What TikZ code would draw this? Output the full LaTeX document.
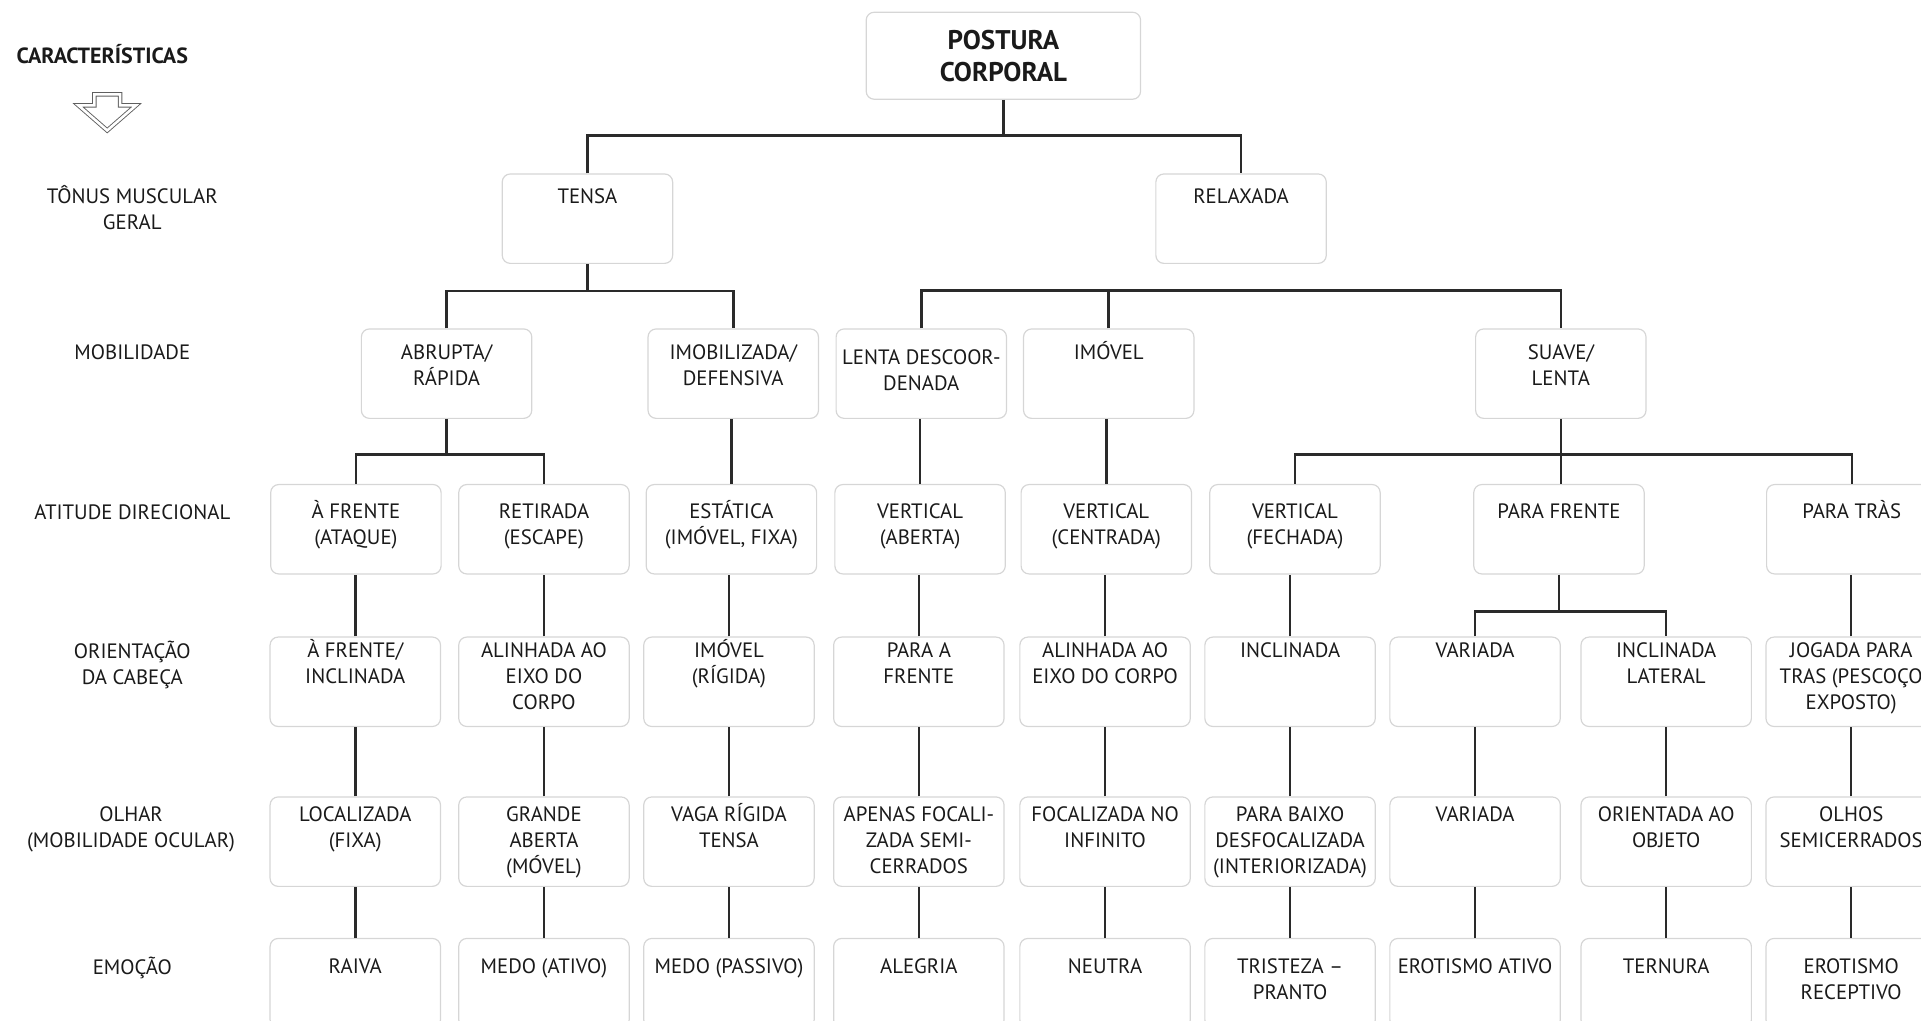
\documentclass[tikz,border=0pt]{standalone}
\usepackage{fontspec}
\setmainfont{PT Sans}
\usetikzlibrary{positioning}
\definecolor{linegray}{HTML}{2A2A2A}
\definecolor{boxgray}{HTML}{D6D6D6}
\definecolor{txtgray}{HTML}{1A1A1A}

\begin{document}
\begin{tikzpicture}[x=0.6126pt, y=-0.6126pt,
  cell/.style={draw=boxgray, line width=0.6pt, rounded corners=4pt,
    minimum width=85.2pt, minimum height=44.7pt, inner sep=0pt},
  txt/.style={anchor=north, align=center, inner sep=0pt, text=txtgray,
    font=\fontsize{10.4}{12.9}\selectfont},
  row1/.style={label={[txt,yshift=-2.7pt]north:\rule{0pt}{12pt}#1}},
  row2/.style={label={[txt,yshift=-3.3pt]north:\rule{0pt}{12pt}#1}},
  row3/.style={label={[txt,yshift=-5.2pt]north:\rule{0pt}{12pt}#1}},
  row4/.style={label={[txt,yshift=1.6pt]north:\rule{0pt}{12pt}#1}},
  row5/.style={label={[txt,yshift=-0.4pt]north:\rule{0pt}{12pt}#1}},
  row6/.style={label={[txt,yshift=-5.8pt]north:\rule{0pt}{12pt}#1}},
  link/.style={draw=linegray, line width=1.3pt}]

\useasboundingbox (0,0) rectangle (1568,833);
\clip (0,0) rectangle (1568,833);

% Left column: characteristics
\node[anchor=base, text=txtgray, inner sep=0pt, font=\bfseries\fontsize{11}{12}\selectfont] (carac) at (83.5,52) {CARACTERÍSTICAS};
\draw[draw=linegray!75, line width=0.45pt, double=white, double distance=1.3pt]
  (77,77) -- (98,77) -- (98,86) -- (111,86) -- (87.5,106.5) -- (64,86) -- (77,86) -- cycle;
\node[txt] (tonus) at (108,146.4) {\rule{0pt}{12pt}TÔNUS MUSCULAR\\GERAL};
\node[txt] (mobil) at (108,273.4) {\rule{0pt}{12pt}MOBILIDADE};
\node[txt] (atit) at (108,404.4) {\rule{0pt}{12pt}ATITUDE DIRECIONAL};
\node[txt] (orient) at (108,517.4) {\rule{0pt}{12pt}ORIENTAÇÃO\\DA CABEÇA};
\node[txt] (olhar) at (107,650.4) {\rule{0pt}{12pt}OLHAR\\(MOBILIDADE OCULAR)};
\node[txt] (emocao) at (108,775.4) {\rule{0pt}{12pt}EMOÇÃO};

% Root
\node[cell, minimum width=137.2pt, minimum height=43.5pt, align=center, text=txtgray,
  font=\bfseries\fontsize{13.5}{15.9}\selectfont] (post) at (819,45.5) {POSTURA\\CORPORAL};

% Muscle tone
\node[cell, row1={TENSA}] (tensa) at (479.5,178.5) {};
\node[cell, row1={RELAXADA}] (relax) at (1013,178.5) {};

% Mobility
\node[cell, row2={ABRUPTA/\\RÁPIDA}] (abrupta) at (364.5,305) {};
\node[cell, row2={IMOBILIZADA/\\DEFENSIVA}] (imobil) at (598.5,305) {};
\node[cell, label={[txt,yshift=-5.8pt]north:\rule{0pt}{12pt}LENTA DESCOOR-\\DENADA}] (lenta) at (752,305) {};
\node[cell, row2={IMÓVEL}] (imovel) at (905,305) {};
\node[cell, row2={SUAVE/\\LENTA}] (suave) at (1274,305) {};

% Directional attitude
\node[cell, row3={À FRENTE\\(ATAQUE)}] (afrente) at (290.5,432) {};
\node[cell, row3={RETIRADA\\(ESCAPE)}] (retirada) at (444,432) {};
\node[cell, row3={ESTÁTICA\\(IMÓVEL, FIXA)}] (estatica) at (597,432) {};
\node[cell, row3={VERTICAL\\(ABERTA)}] (vabert) at (751,432) {};
\node[cell, row3={VERTICAL\\(CENTRADA)}] (vcentr) at (903,432) {};
\node[cell, row3={VERTICAL\\(FECHADA)}] (vfech) at (1057,432) {};
\node[cell, row3={PARA FRENTE}] (pfrente) at (1272.5,432) {};
\node[cell, row3={PARA TRÀS}] (ptras) at (1511.5,432) {};

% Head orientation
\node[cell, row4={À FRENTE/\\INCLINADA}] (cab1) at (290,556.5) {};
\node[cell, row4={ALINHADA AO\\EIXO DO\\CORPO}] (cab2) at (444,556.5) {};
\node[cell, row4={IMÓVEL\\(RÍGIDA)}] (cab3) at (595,556.5) {};
\node[cell, row4={PARA A\\FRENTE}] (cab4) at (750,556.5) {};
\node[cell, row4={ALINHADA AO\\EIXO DO CORPO}] (cab5) at (902,556.5) {};
\node[cell, row4={INCLINADA}] (cab6) at (1053,556.5) {};
\node[cell, row4={VARIADA}] (cab7) at (1204,556.5) {};
\node[cell, row4={INCLINADA\\LATERAL}] (cab8) at (1360,556.5) {};
\node[cell, row4={JOGADA PARA\\TRAS (PESCOÇO\\EXPOSTO)}] (cab9) at (1511,556.5) {};

% Gaze
\node[cell, row5={LOCALIZADA\\(FIXA)}] (olh1) at (290,687) {};
\node[cell, row5={GRANDE\\ABERTA\\(MÓVEL)}] (olh2) at (444,687) {};
\node[cell, row5={VAGA RÍGIDA\\TENSA}] (olh3) at (595,687) {};
\node[cell, row5={APENAS FOCALI-\\ZADA SEMI-\\CERRADOS}] (olh4) at (750,687) {};
\node[cell, row5={FOCALIZADA NO\\INFINITO}] (olh5) at (902,687) {};
\node[cell, row5={PARA BAIXO\\DESFOCALIZADA\\(INTERIORIZADA)}] (olh6) at (1053,687) {};
\node[cell, row5={VARIADA}] (olh7) at (1204,687) {};
\node[cell, row5={ORIENTADA AO\\OBJETO}] (olh8) at (1360,687) {};
\node[cell, row5={OLHOS\\SEMICERRADOS}] (olh9) at (1511,687) {};

% Emotion
\node[cell, row6={RAIVA}] (emo1) at (290,802.5) {};
\node[cell, row6={MEDO (ATIVO)}] (emo2) at (444,802.5) {};
\node[cell, row6={MEDO (PASSIVO)}] (emo3) at (595,802.5) {};
\node[cell, row6={ALEGRIA}] (emo4) at (750,802.5) {};
\node[cell, row6={NEUTRA}] (emo5) at (902,802.5) {};
\node[cell, row6={TRISTEZA –\\PRANTO}] (emo6) at (1053,802.5) {};
\node[cell, row6={EROTISMO ATIVO}] (emo7) at (1204,802.5) {};
\node[cell, row6={TERNURA}] (emo8) at (1360,802.5) {};
\node[cell, row6={EROTISMO\\RECEPTIVO}] (emo9) at (1511,802.5) {};

% Root to muscle tone
\draw[link] (post.south) -- ++(0,29) coordinate (b0);
\draw[link] (tensa.north) |- (b0) -| (relax.north);

% Muscle tone to mobility
\draw[link] (tensa.south) -- ++(0,22) coordinate (b1);
\draw[link] (abrupta.north) |- (b1) -| (imobil.north);
\coordinate (b2) at (0,237);
\draw[link] (lenta.north) |- (b2 -| suave.north) -- (suave.north);
\draw[link] (imovel.north) -- (imovel.north |- b2);

% Mobility to directional attitude
\draw[link] (abrupta.south) -- ++(0,29) coordinate (b3);
\draw[link] (afrente.north) |- (b3) -| (retirada.north);
\draw[link] (estatica.north) -- (estatica.north |- imobil.south);
\draw[link] (vabert.north) -- (vabert.north |- lenta.south);
\draw[link] (vcentr.north) -- (vcentr.north |- imovel.south);
\draw[link] (suave.south) -- ++(0,29) coordinate (b4);
\draw[link] (vfech.north) |- (b4) -| (ptras.north);
\draw[link] (b4) -- (b4 |- pfrente.north);

% Directional attitude to head orientation
\foreach \p/\c in {afrente/cab1, retirada/cab2, estatica/cab3, vabert/cab4, vcentr/cab5, vfech/cab6, ptras/cab9}
  \draw[link] (\c.north) -- (\c.north |- \p.south);
\draw[link] (pfrente.south) -- ++(0,30) coordinate (b5);
\draw[link] (cab7.north) |- (b5) -| (cab8.north);

% Head orientation to gaze to emotion
\foreach \i in {1,...,9} {
  \draw[link] (olh\i.north) -- (olh\i.north |- cab\i.south);
  \draw[link] (emo\i.north) -- (emo\i.north |- olh\i.south);
}
\end{tikzpicture}
\end{document}
